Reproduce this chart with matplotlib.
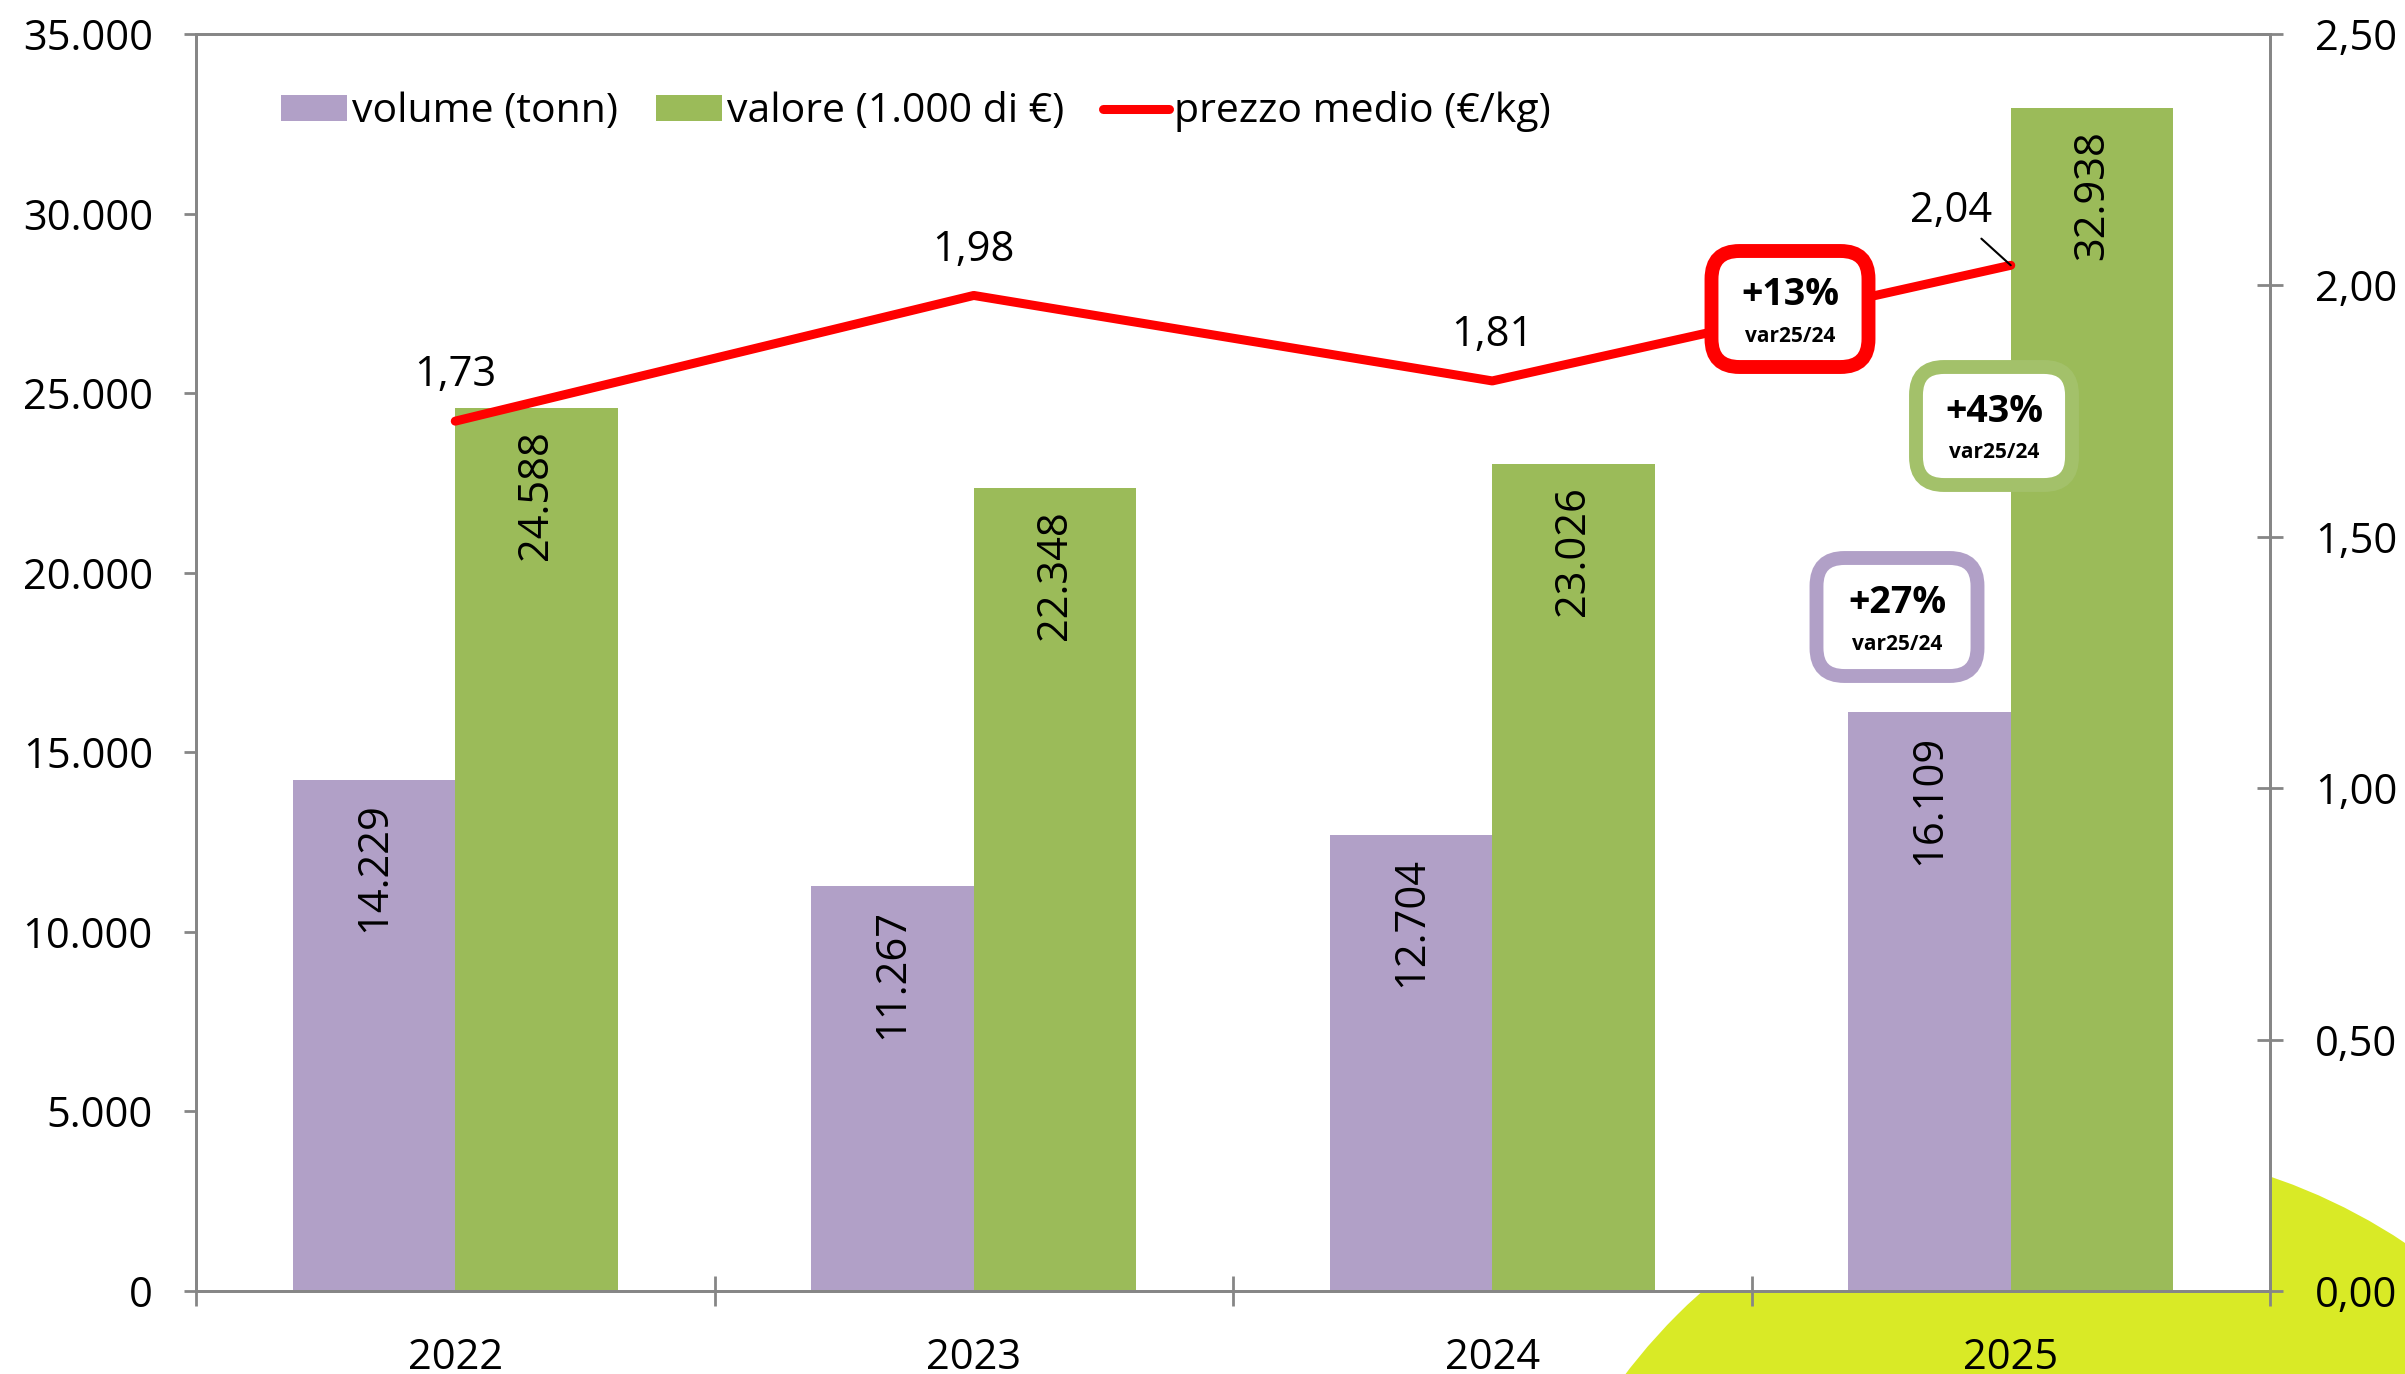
import matplotlib
matplotlib.use("Agg")
import matplotlib.pyplot as plt
from matplotlib.patches import Circle, FancyBboxPatch
from matplotlib.ticker import FixedLocator, FuncFormatter, NullFormatter

plt.rcParams["font.family"] = ["Open Sans", "DejaVu Sans"]

years = ["2022", "2023", "2024", "2025"]
volume = [14229, 11267, 12704, 16109]
valore = [24588, 22348, 23026, 32938]
prezzo = [1.73, 1.98, 1.81, 2.04]
var_labels = ["+13%", "+43%", "+27%"]
var_sub = "var25/24"

PURPLE = "#B1A0C7"
GREEN = "#9BBB59"
RED = "#FF0000"
GRAY = "#868686"
BLOB = "#D9EA26"

W, H, DPI = 2405, 1374, 100
fig = plt.figure(figsize=(W / DPI, H / DPI), dpi=DPI)

# decorative blob in the corner, behind the axes
fig.patches.append(Circle((2085 / DPI, (H - 1723) / DPI), 577 / DPI, transform=fig.dpi_scale_trans,
                          facecolor=BLOB, edgecolor="none", zorder=-1))

ax = fig.add_axes([196 / W, 1 - 1291 / H, (2270 - 196) / W, (1291 - 34) / H])
ax.set_facecolor("white")
ax2 = ax.twinx()

x = list(range(len(years)))
bw = 0.313
b1 = ax.bar([i - bw / 2 for i in x], volume, bw, color=PURPLE, label="volume (tonn)", zorder=2)
b2 = ax.bar([i + bw / 2 for i in x], valore, bw, color=GREEN, label="valore (1.000 di €)", zorder=2)
ln, = ax2.plot(x, prezzo, color=RED, lw=6.5, solid_capstyle="round", label="prezzo medio (€/kg)")

fmt_k = lambda v: f"{v:,.0f}".replace(",", ".")
fmt_p = lambda v: f"{v:.2f}".replace(".", ",")

for bars, vals in ((b1, volume), (b2, valore)):
    for r, v in zip(bars, vals):
        ax.annotate(fmt_k(v), (r.get_x() + r.get_width() / 2, v), xytext=(0, -16),
                    textcoords="offset points", rotation=90, ha="center", va="top",
                    fontsize=30, zorder=3)

for i, p in enumerate(prezzo[:-1]):
    ax2.annotate(fmt_p(p), (x[i], p), xytext=(0, 33), textcoords="offset points",
                 ha="center", va="center", fontsize=30)
ax2.annotate(fmt_p(prezzo[-1]), (x[-1], prezzo[-1]), xytext=(-43, 39), textcoords="offset points",
             ha="center", va="center", fontsize=30,
             arrowprops=dict(arrowstyle="-", color="black", lw=1.5, shrinkA=4, shrinkB=0))

ax.set_xlim(-0.5, len(years) - 0.5)
ax.set_ylim(0, 35000)
ax2.set_ylim(0, 2.5)
ax.set_yticks(range(0, 35001, 5000))
ax.yaxis.set_major_formatter(FuncFormatter(lambda v, _: fmt_k(v)))
ax2.set_yticks([0, 0.5, 1.0, 1.5, 2.0, 2.5])
ax2.yaxis.set_major_formatter(FuncFormatter(lambda v, _: fmt_p(v)))

ax.xaxis.set_major_locator(FixedLocator([i - 0.5 for i in range(len(years) + 1)]))
ax.xaxis.set_major_formatter(NullFormatter())
ax.xaxis.set_minor_locator(FixedLocator(x))
ax.set_xticklabels(years, minor=True)
ax.tick_params(axis="x", which="major", direction="inout", length=21, width=2, color=GRAY)
ax.tick_params(axis="x", which="minor", length=0, pad=33, labelsize=30)
ax.tick_params(axis="y", direction="out", length=9, width=2, color=GRAY, pad=22, labelsize=30)
ax2.tick_params(axis="y", direction="inout", length=19, width=2, color=GRAY, pad=23, labelsize=30)

for a in (ax, ax2):
    for s in a.spines.values():
        s.set_color(GRAY)
        s.set_linewidth(2)

ax.legend([b1, b2, ln], [b1.get_label(), b2.get_label(), ln.get_label()], ncol=3, frameon=False,
          loc="center left", bbox_to_anchor=(0.041, 0.938), fontsize=29.5, borderpad=0,
          borderaxespad=0, handlelength=1.6, handleheight=0.6, handletextpad=0.12,
          columnspacing=0.95)

# variation boxes (pixel layout, top-left origin)
boxes = [
    (1790, 309, 157, 116, RED, var_labels[0]),
    (1994, 426, 156, 118, "#A3C16A", var_labels[1]),
    (1897, 617, 161, 118, PURPLE, var_labels[2]),
]
for cx, cy, bw_, bh, col, lab in boxes:
    fig.patches.append(FancyBboxPatch(((cx - bw_ / 2) / DPI, (H - cy - bh / 2) / DPI), bw_ / DPI, bh / DPI,
                                      boxstyle=f"round,pad=0,rounding_size={28 / DPI}",
                                      transform=fig.dpi_scale_trans, facecolor="white",
                                      edgecolor=col, lw=10, zorder=5))
    fig.text(cx / W, 1 - (cy - 14) / H, lab, ha="center", va="center", fontsize=27,
             fontweight="bold", zorder=6)
    fig.text(cx / W, 1 - (cy + 27) / H, var_sub, ha="center", va="center", fontsize=15,
             fontweight="bold", zorder=6)

fig.savefig("out.png", dpi=DPI)
